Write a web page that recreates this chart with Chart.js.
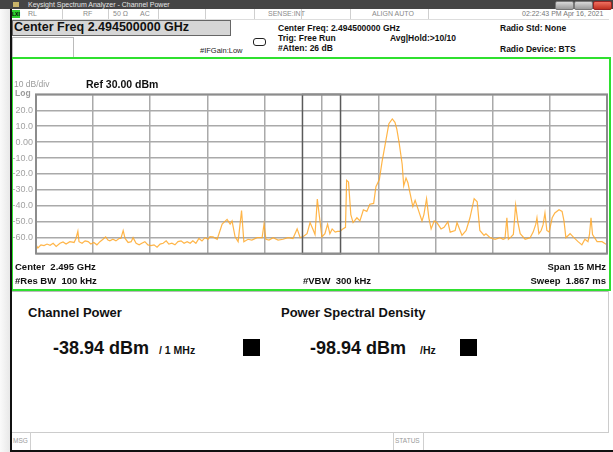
<!DOCTYPE html>
<html>
<head>
<meta charset="utf-8">
<script src="https://cdn.jsdelivr.net/npm/chart.js@4.4.1/dist/chart.umd.min.js"></script>
<style>
  html, body { margin: 0; padding: 0; background: #fff; }
  body { width: 613px; height: 452px; position: relative; overflow: hidden; font-family: "Liberation Sans", Arial, sans-serif; }
  .abs { position: absolute; white-space: nowrap; line-height: 1; }
  .titlebar { left: 0; top: 0; width: 613px; height: 9px; background: #454545; }
  .title { left: 28px; top: 1px; font-size: 7px; color: #e6e6e6; }
  .winbtn { top: 1px; width: 17px; height: 7px; border: 1px solid #777; border-radius: 2px; background: linear-gradient(#d8d8d8, #9a9a9a); }
  .status { top: 9px; left: 12px; width: 597px; height: 10px; border-bottom: 1px solid #ddd; }
  .cell { top: 10px; font-size: 7px; color: #8a8a8a; }
  .vdiv { width: 1px; background: #cfcfcf; }
  .b8 { font-size: 8.5px; font-weight: bold; color: #111; }
  .gray { color: #9a9a9a; }
  .big { font-size: 13px; font-weight: bold; color: #111; }
  .val { font-size: 18px; font-weight: bold; color: #111; }
  .unit { font-size: 10.5px; font-weight: bold; color: #111; }
  .sq { width: 17px; height: 17px; background: #000; }
</style>
</head>
<body>
<!-- window chrome -->
<div class="abs titlebar"></div>
<div class="abs" style="left:13px;top:2px;width:6px;height:5px;background:#c9b46a;"></div>
<div class="abs title">Keysight Spectrum Analyzer - Channel Power</div>
<div class="abs winbtn" style="left:555px;"></div>
<div class="abs winbtn" style="left:574px;"></div>
<div class="abs winbtn" style="left:593px;background:linear-gradient(#f07060,#c03020);border-color:#922;"></div>

<div class="abs" style="left:0;top:9px;width:10px;height:443px;background:linear-gradient(90deg,#fafafa,#e8e8e8);"></div>

<!-- status row -->
<div class="abs status"></div>
<div class="abs" style="left:12px;top:10px;width:8px;height:8px;background:#2fd02f;font-size:5px;font-weight:bold;color:#000;line-height:8px;">LXI</div>
<div class="abs cell" style="left:28px;">RL</div>
<div class="abs vdiv" style="left:62px;top:9px;height:10px;"></div>
<div class="abs cell" style="left:83px;">RF</div>
<div class="abs vdiv" style="left:108px;top:9px;height:10px;"></div>
<div class="abs cell" style="left:113px;">50 Ω</div>
<div class="abs cell" style="left:140px;">AC</div>
<div class="abs vdiv" style="left:158px;top:9px;height:10px;"></div>
<div class="abs vdiv" style="left:205px;top:9px;height:10px;"></div>
<div class="abs vdiv" style="left:254px;top:9px;height:10px;"></div>
<div class="abs cell" style="left:268px;">SENSE:INT</div>
<div class="abs vdiv" style="left:301px;top:9px;height:10px;"></div>
<div class="abs vdiv" style="left:350px;top:9px;height:10px;"></div>
<div class="abs cell" style="left:372px;">ALIGN AUTO</div>
<div class="abs vdiv" style="left:428px;top:9px;height:10px;"></div>
<div class="abs cell" style="left:522px;color:#777;">02:22:43 PM Apr 16, 2021</div>

<!-- settings header -->
<div class="abs" style="left:12px;top:20px;width:217px;height:14px;background:#d6d6d6;border:1px solid #666;"></div>
<div class="abs" style="left:14px;top:21px;font-size:12.5px;font-weight:bold;color:#111;">Center Freq 2.494500000 GHz</div>
<div class="abs" style="left:12px;top:37px;width:60px;height:19px;background:#fff;border:1px solid #bbb;"></div>
<div class="abs" style="left:200px;top:47px;font-size:7.5px;color:#222;">#IFGain:Low</div>
<div class="abs" style="left:253px;top:38px;width:11px;height:6px;border:1px solid #222;border-radius:3px;"></div>
<div class="abs b8" style="left:278px;top:24px;">Center Freq: 2.494500000 GHz</div>
<div class="abs b8" style="left:278px;top:34px;">Trig: Free Run</div>
<div class="abs b8" style="left:390px;top:34px;">Avg|Hold:&gt;10/10</div>
<div class="abs b8" style="left:278px;top:44px;">#Atten: 26 dB</div>
<div class="abs b8" style="left:500px;top:24px;">Radio Std: None</div>
<div class="abs b8" style="left:500px;top:45px;">Radio Device: BTS</div>

<!-- measurement window -->
<div class="abs" style="left:0;top:86px;width:609px;height:176px;"><canvas id="spec"></canvas></div>
<div class="abs" style="left:11px;top:57px;width:596px;height:230px;border:2px solid #2fe02f;"></div>
<div class="abs gray" style="left:14px;top:80px;font-size:8.5px;">10 dB/div</div>
<div class="abs gray" style="left:15px;top:89px;font-size:8.5px;font-weight:bold;background:#fff;">Log</div>
<div class="abs" style="left:86px;top:79px;font-size:10.5px;font-weight:bold;color:#111;">Ref 30.00 dBm</div>
<div class="abs" style="left:15px;top:262px;font-size:9.5px;font-weight:bold;color:#111;">Center&nbsp; 2.495 GHz</div>
<div class="abs" style="right:7px;top:262px;font-size:9.5px;font-weight:bold;color:#111;">Span 15 MHz</div>
<div class="abs" style="left:15px;top:276px;font-size:9.5px;font-weight:bold;color:#111;">#Res BW&nbsp; 100 kHz</div>
<div class="abs" style="left:303px;top:276px;font-size:9.5px;font-weight:bold;color:#111;">#VBW&nbsp; 300 kHz</div>
<div class="abs" style="right:7px;top:276px;font-size:9.5px;font-weight:bold;color:#111;">Sweep&nbsp; 1.867 ms</div>

<!-- result panel -->
<div class="abs" style="left:12px;top:291px;width:597px;height:1px;background:#bbb;"></div>
<div class="abs" style="left:608px;top:291px;width:1px;height:141px;background:#ccc;"></div>
<div class="abs big" style="left:28px;top:306px;">Channel Power</div>
<div class="abs big" style="left:281px;top:306px;">Power Spectral Density</div>
<div class="abs val" style="left:53px;top:339px;">-38.94 dBm</div>
<div class="abs unit" style="left:159px;top:345px;">/ 1 MHz</div>
<div class="abs sq" style="left:243px;top:339px;"></div>
<div class="abs val" style="left:310px;top:339px;">-98.94 dBm</div>
<div class="abs unit" style="left:420px;top:345px;">/Hz</div>
<div class="abs sq" style="left:460px;top:339px;"></div>

<!-- message bar -->
<div class="abs" style="left:12px;top:432px;width:597px;height:1px;background:#ccc;"></div>
<div class="abs gray" style="left:13px;top:438px;font-size:6.5px;">MSG</div>
<div class="abs vdiv" style="left:30px;top:432px;height:18px;"></div>
<div class="abs vdiv" style="left:393px;top:432px;height:18px;"></div>
<div class="abs gray" style="left:395px;top:438px;font-size:6.5px;">STATUS</div>
<div class="abs vdiv" style="left:423px;top:432px;height:18px;"></div>

<div class="abs" style="left:10px;top:9px;width:2px;height:443px;background:#111;"></div>
<div class="abs" style="left:10px;top:450px;width:603px;height:2px;background:#111;"></div>

<script>
// Trace: frequency (MHz) and level (dBm).
const traceFreqMHz = [
  2487.50, 2487.55, 2487.63, 2487.71, 2487.79, 2487.87, 2487.95, 2488.03, 2488.13, 2488.21,
  2488.29, 2488.39, 2488.50, 2488.55, 2488.60, 2488.63, 2488.71, 2488.79, 2488.87, 2488.94,
  2489.02, 2489.10, 2489.18, 2489.26, 2489.33, 2489.39, 2489.44, 2489.52, 2489.60, 2489.68,
  2489.73, 2489.79, 2489.84, 2489.92, 2490.00, 2490.05, 2490.13, 2490.21, 2490.28, 2490.36,
  2490.44, 2490.52, 2490.60, 2490.68, 2490.76, 2490.84, 2490.92, 2490.99, 2491.07, 2491.15,
  2491.23, 2491.31, 2491.39, 2491.47, 2491.55, 2491.62, 2491.70, 2491.78, 2491.86, 2491.94,
  2492.02, 2492.07, 2492.15, 2492.26, 2492.39, 2492.52, 2492.60, 2492.65, 2492.73, 2492.81,
  2492.90, 2492.96, 2493.07, 2493.17, 2493.31, 2493.44, 2493.49, 2493.54, 2493.62, 2493.73,
  2493.86, 2493.99, 2494.12, 2494.25, 2494.36, 2494.44, 2494.54, 2494.62, 2494.70, 2494.78,
  2494.83, 2494.89, 2494.96, 2495.01, 2495.09, 2495.16, 2495.22, 2495.28, 2495.36, 2495.42,
  2495.49, 2495.56, 2495.63, 2495.66, 2495.71, 2495.77, 2495.83, 2495.93, 2496.01, 2496.10,
  2496.19, 2496.27, 2496.37, 2496.43, 2496.52, 2496.59, 2496.68, 2496.77, 2496.86, 2496.93,
  2496.98, 2497.04, 2497.12, 2497.16, 2497.22, 2497.27, 2497.33, 2497.40, 2497.46, 2497.55,
  2497.64, 2497.69, 2497.76, 2497.82, 2497.88, 2497.96, 2498.03, 2498.14, 2498.22, 2498.32,
  2498.38, 2498.51, 2498.56, 2498.64, 2498.69, 2498.80, 2498.90, 2499.01, 2499.09, 2499.16,
  2499.27, 2499.32, 2499.43, 2499.56, 2499.69, 2499.77, 2499.82, 2499.87, 2499.91, 2499.98,
  2500.04, 2500.10, 2500.16, 2500.22, 2500.35, 2500.48, 2500.56, 2500.63, 2500.66, 2500.71,
  2500.77, 2500.82, 2500.87, 2500.92, 2500.98, 2501.06, 2501.13, 2501.24, 2501.32, 2501.37,
  2501.42, 2501.53, 2501.63, 2501.74, 2501.84, 2501.92, 2502.00, 2502.04, 2502.08, 2502.12,
  2502.24, 2502.37, 2502.50,
];
const traceLevelDbm = [
  -64.5, -66.5, -64.5, -65.0, -64.0, -64.8, -63.5, -65.5, -63.5, -62.7,
  -64.0, -62.5, -63.0, -60.5, -56.0, -62.5, -63.5, -62.0, -62.5, -64.0,
  -63.0, -64.5, -62.5, -61.0, -59.5, -61.5, -62.0, -61.0, -62.0, -60.5,
  -60.5, -55.5, -60.5, -63.0, -62.5, -60.0, -63.5, -64.5, -63.5, -62.5,
  -64.5, -65.0, -64.5, -66.0, -64.0, -63.5, -62.0, -64.0, -63.5, -64.5,
  -62.5, -62.0, -63.5, -62.5, -63.5, -62.0, -63.5, -60.5, -62.0, -60.0,
  -61.0, -59.3, -59.5, -61.0, -51.5, -48.5, -51.5, -49.5, -59.5, -62.5,
  -43.0, -62.5, -61.0, -61.5, -60.0, -60.0, -51.5, -61.0, -61.5, -60.0,
  -61.5, -61.0, -60.0, -60.5, -54.5, -60.0, -59.0, -57.5, -50.5, -55.0,
  -58.0, -35.8, -49.5, -59.5, -57.5, -51.5, -57.5, -54.5, -56.5, -56.0,
  -56.0, -54.5, -53.5, -24.0, -25.0, -45.5, -50.5, -47.5, -49.5, -42.5,
  -43.5, -39.0, -38.5, -28.0, -23.5, -12.4, -0.4, 11.6, 14.6, 12.5,
  8.0, -0.4, -14.0, -27.5, -22.5, -25.5, -32.5, -40.5, -36.5, -43.0,
  -49.5, -45.5, -35.5, -47.5, -54.5, -49.5, -50.5, -54.5, -53.5, -50.0,
  -56.5, -55.5, -50.5, -55.5, -58.5, -55.5, -47.5, -35.5, -37.4, -55.5,
  -58.5, -57.5, -60.0, -61.0, -60.0, -61.0, -60.5, -47.5, -61.0, -59.5,
  -58.0, -39.5, -50.5, -57.5, -61.0, -60.0, -56.5, -51.5, -47.5, -57.5,
  -55.5, -52.0, -44.5, -55.5, -56.5, -47.5, -44.5, -42.5, -43.5, -49.5,
  -60.0, -57.5, -60.0, -62.5, -64.5, -61.0, -62.5, -58.0, -47.5, -58.0,
  -62.5, -62.5, -64.5,
];

const CENTER_MHZ = 2495.0;
const SPAN_MHZ = 15;
const CHANNEL_BW_MHZ = 1;
const REF_DBM = 30;
const DB_PER_DIV = 10;
const DIVS = 10;

const xMin = CENTER_MHZ - SPAN_MHZ / 2;
const xMax = CENTER_MHZ + SPAN_MHZ / 2;
const yMax = REF_DBM;
const yMin = REF_DBM - DB_PER_DIV * DIVS;
const xGrid = Array.from({ length: DIVS + 1 }, (_, i) => xMin + (i * SPAN_MHZ) / DIVS);

// integration bandwidth box + outer frame
const channelBox = {
  id: 'channelBox',
  afterDatasetsDraw(chart) {
    const { ctx, chartArea: a, scales: { x } } = chart;
    const lo = x.getPixelForValue(CENTER_MHZ - CHANNEL_BW_MHZ / 2);
    const hi = x.getPixelForValue(CENTER_MHZ + CHANNEL_BW_MHZ / 2);
    ctx.save();
    ctx.strokeStyle = '#5a5a5a';
    ctx.lineWidth = 1.5;
    ctx.strokeRect(lo, a.top, hi - lo, a.bottom - a.top);
    ctx.strokeStyle = '#8c8c8c';
    ctx.lineWidth = 2;
    ctx.strokeRect(a.left, a.top, a.right - a.left, a.bottom - a.top);
    ctx.restore();
  },
};

new Chart(document.getElementById('spec'), {
  type: 'line',
  data: {
    datasets: [{
      data: traceFreqMHz.map((f, i) => ({ x: f, y: traceLevelDbm[i] })),
      borderColor: 'rgba(255, 168, 40, 0.85)',
      borderWidth: 1.2,
      pointRadius: 0,
      tension: 0,
    }],
  },
  options: {
    responsive: true,
    maintainAspectRatio: false,
    animation: false,
    layout: { padding: { top: 5, right: 2, bottom: 4, left: 0 } },
    plugins: { legend: { display: false }, tooltip: { enabled: false } },
    scales: {
      x: {
        type: 'linear', min: xMin, max: xMax,
        afterBuildTicks: (s) => { s.ticks = xGrid.map((v) => ({ value: v })); },
        afterFit: (s) => { s.height = 0; },
        ticks: { display: false },
        grid: { color: '#aaaaaa', lineWidth: 1.5, drawTicks: false },
        border: { display: false },
      },
      y: {
        min: yMin, max: yMax,
        afterFit: (s) => { s.width = 36; },
        ticks: {
          stepSize: DB_PER_DIV, padding: 3, color: '#a2a2a2',
          font: { family: 'Liberation Sans', size: 9 },
          callback: (v) => (v === yMax || v === yMin ? '' : v === 0 ? '0.00' : v.toFixed(1)),
        },
        grid: { color: '#aaaaaa', lineWidth: 1.5, drawTicks: false },
        border: { display: false },
      },
    },
  },
  plugins: [channelBox],
});
</script>
</body>
</html>
